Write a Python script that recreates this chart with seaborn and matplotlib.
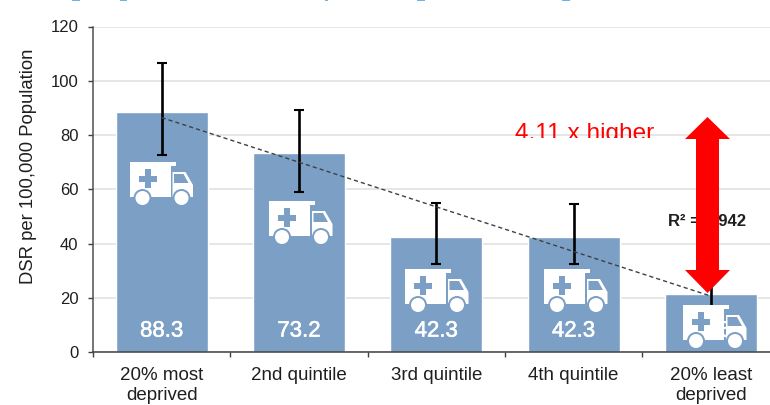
import matplotlib
matplotlib.use('Agg')
import matplotlib.pyplot as plt
import matplotlib.patches as mpatches
import matplotlib.patheffects as pe
from matplotlib.transforms import Affine2D, Bbox
import numpy as np
import seaborn as sns

categories = ['20% most\ndeprived', '2nd quintile', '3rd quintile', '4th quintile', '20% least\ndeprived']
dsr = [88.3, 73.2, 42.3, 42.3, 21.5]
ci_low = [72.6, 59.1, 32.4, 32.4, 16.5]
ci_high = [106.4, 89.2, 55.0, 54.5, 27.9]
y_ticks = [0, 20, 40, 60, 80, 100, 120]

BAR_COL = '#7c9fc6'
TEXT_COL = '#1f1f1f'

sns.set_theme(style='ticks')
plt.rcParams['font.family'] = ['Liberation Sans', 'DejaVu Sans']

W, H = 770, 405
fig = plt.figure(figsize=(W / 100, H / 100), dpi=100)
ax = fig.add_axes([93 / W, (H - 352) / H, (W - 93) / W, 325.5 / H])

# picture pixels, y down from the top edge
PIX = Affine2D().scale(1, -1).translate(0, H)


def px_box(x0, y0, x1, y1, **kw):
	ax.add_patch(mpatches.Rectangle((x0, y0), x1 - x0, y1 - y0, transform=PIX, **kw))


def draw_ambulance(x, top):
	# icon is 64x43 px, drawn in picture pixels, white with bar coloured details
	kw = dict(fc='white', ec='none', zorder=5, clip_on=False)
	px_box(x, top, x + 46, top + 4, **kw)
	px_box(x, top, x + 41, top + 35, **kw)
	ax.add_patch(mpatches.Polygon([(x + 43, top + 10), (x + 56, top + 10), (x + 63.5, top + 23),
		(x + 63.5, top + 35), (x + 43, top + 35)], transform=PIX, **kw))
	blue = dict(fc=BAR_COL, ec='none', zorder=6)
	ax.add_patch(mpatches.Polygon([(x + 44.5, top + 12), (x + 54, top + 12), (x + 59, top + 21),
		(x + 44.5, top + 21)], transform=PIX, **blue))
	px_box(x + 15, top + 7, x + 21, top + 26, **blue)
	px_box(x + 9, top + 14, x + 27, top + 20, **blue)
	for cx in (13, 52):
		ax.add_patch(mpatches.Circle((x + cx, top + 36), 9, transform=PIX, **blue))
		ax.add_patch(mpatches.Circle((x + cx, top + 36), 7, transform=PIX, fc='white', ec='none', zorder=7))


sns.barplot(x=list(range(5)), y=dsr, color=BAR_COL, saturation=1, width=0.67, ax=ax, native_scale=True, zorder=2)
ax.set_xlim(-0.5, 4.431)
ax.set_ylim(0, 120)

pos = np.arange(5)
dsr_arr = np.array(dsr)
ax.errorbar(pos, dsr_arr, yerr=[dsr_arr - np.array(ci_low), np.array(ci_high) - dsr_arr], fmt='none',
	ecolor='black', elinewidth=1.9, capsize=3.3, capthick=1.5, zorder=3)
sns.regplot(x=pos, y=dsr_arr, scatter=False, ci=None, ax=ax,
	line_kws=dict(color='#404040', lw=1, ls=(0, (3, 2.2)), zorder=4))

ax.set_yticks(y_ticks)
ax.yaxis.grid(True, color='#e2e2e2', lw=1.2)
ax.set_axisbelow(True)
ax.set_xticks(pos, categories)
ax.set_xticks(np.arange(-0.5, 4.5), minor=True)
ax.tick_params(axis='x', which='major', length=0, pad=11, labelsize=13.5, labelcolor=TEXT_COL)
ax.tick_params(axis='x', which='minor', length=3.6, width=1, color='#404040')
ax.tick_params(axis='y', length=3.6, width=1, pad=7, color='#404040', labelsize=12, labelcolor=TEXT_COL)
for lab in ax.get_xticklabels():
	lab.set_linespacing(1.2)
ax.set_xlabel('')
ax.set_ylabel('DSR per 100,000 Population', fontsize=13.3, color=TEXT_COL, labelpad=0)
ax.yaxis.set_label_coords(-0.082, 0.571)
sns.despine(ax=ax)
ax.spines['left'].set_color('#505050')
ax.spines['bottom'].set_color('#404040')
ax.spines['left'].set_linewidth(1.1)
ax.spines['bottom'].set_linewidth(1.1)

for i, v in enumerate(dsr):
	ax.text(i, 7.7, f'{v:.1f}', ha='center', va='center', color='white', fontsize=16, zorder=4,
		path_effects=[pe.withStroke(linewidth=0.4, foreground='white')])

for x, top in zip([129.5, 269, 405, 544, 683], [162, 201, 269, 269, 305]):
	draw_ambulance(x, top)

ax.text(668, 222, 'R² = 0.942', transform=PIX, fontsize=12, fontweight='bold', color=TEXT_COL, va='center', ha='left', zorder=5)

note = ax.text(515, 134.3, '4.11 x higher', transform=PIX, fontsize=17.6, color='#ff0000', va='center', ha='left', zorder=5)
note.set_clip_box(Bbox([[500, H - 138], [670, H - 100]]))
note.set_clip_on(True)

# double arrow between the two end quintiles
xc = 707.5
arrow = [(xc, 117), (xc + 22.5, 139), (xc + 11.5, 139), (xc + 11.5, 270), (xc + 22.5, 270), (xc, 293),
	(xc - 22.5, 270), (xc - 11.5, 270), (xc - 11.5, 139), (xc - 22.5, 139)]
ax.add_patch(mpatches.Polygon(arrow, transform=PIX, fc='#ff0000', ec='none', zorder=8))

# bottoms of the cropped heading left at the top edge of the picture
for x0, x1 in [(72, 80), (120, 127), (325, 328), (417, 425), (562, 570)]:
	fig.add_artist(mpatches.Rectangle((x0, 0), x1 - x0, 1, transform=PIX, fc='#6db3e4', ec='none'))

plt.savefig('out.png', dpi=100)
